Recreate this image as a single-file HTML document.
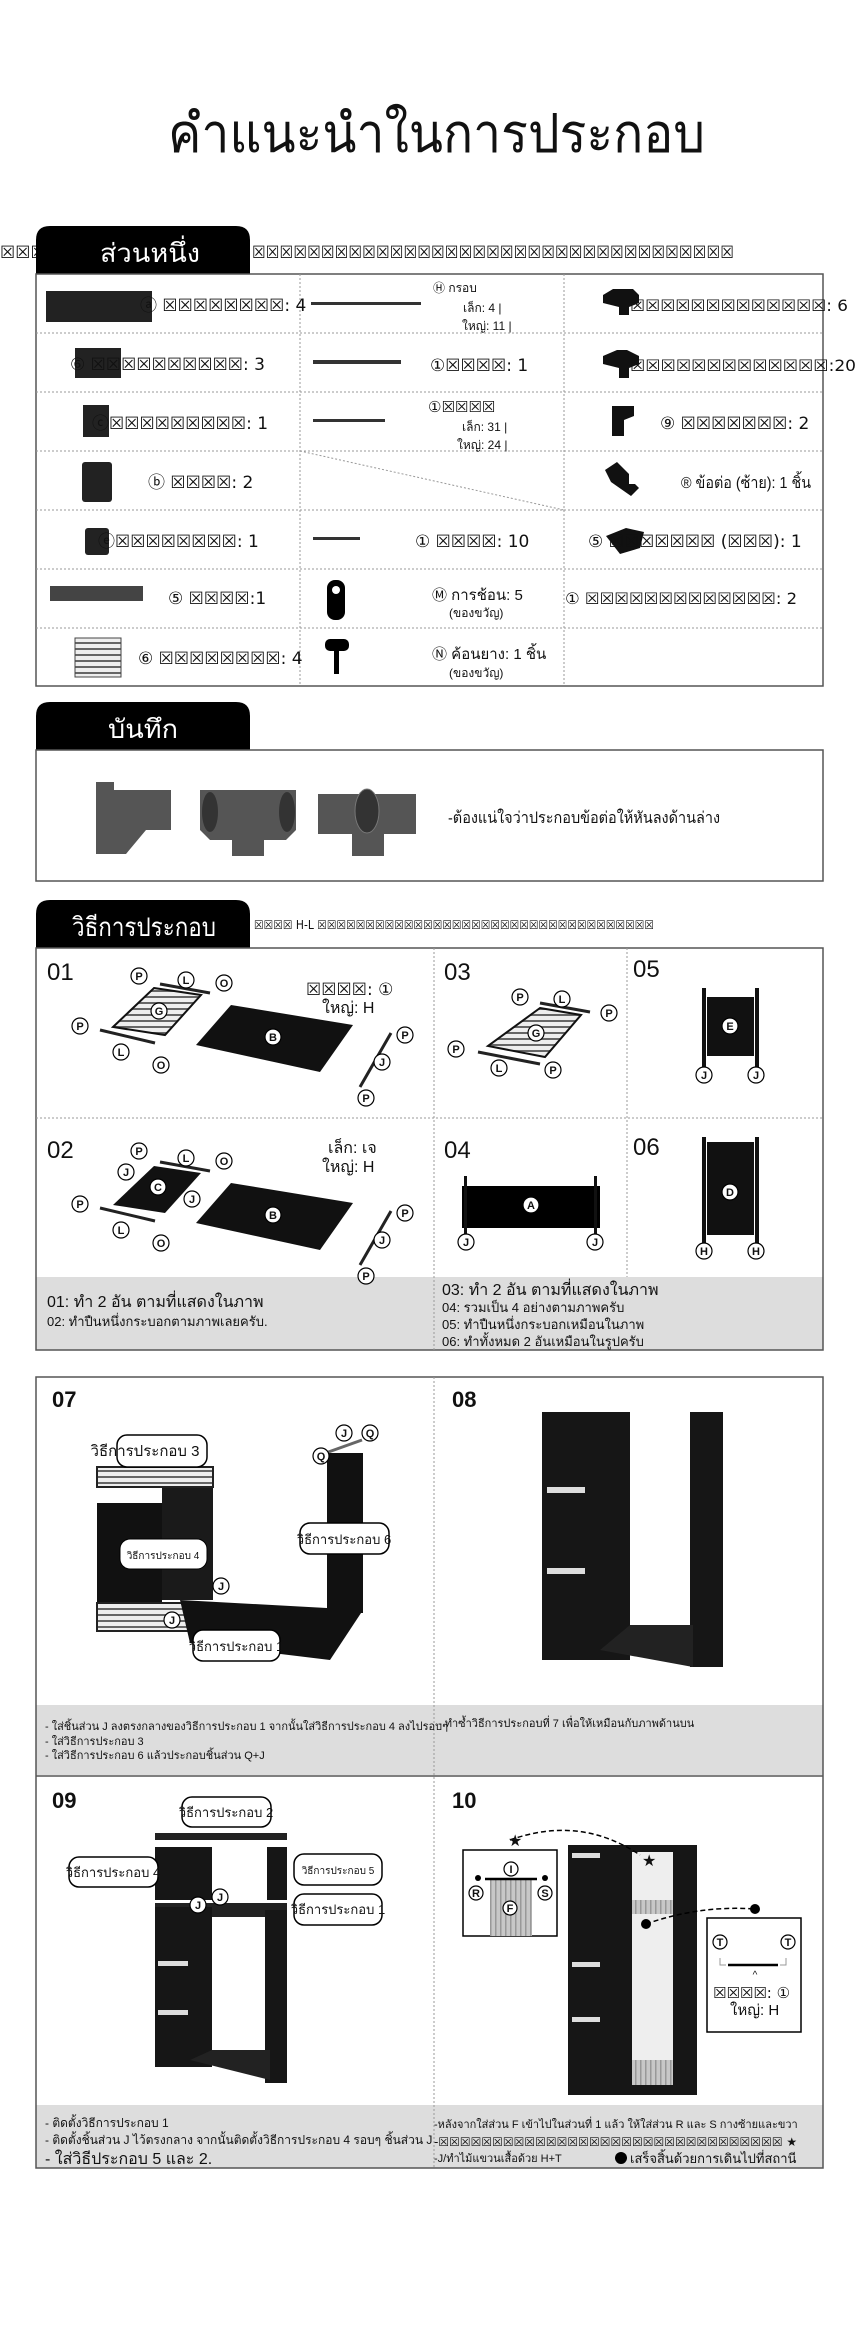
<!DOCTYPE html>
<html><head><meta charset="utf-8"><style>
html,body{margin:0;padding:0;background:#fff}
body{width:860px;height:2336px;position:relative;overflow:hidden}
svg{position:absolute;left:0;top:0}
text{font-family:"Liberation Sans","DejaVu Sans",sans-serif;fill:#111}
.t{font-size:17px}
.s{font-size:12px}
.bx{font-family:"DejaVu Sans",sans-serif}
</style></head><body>
<svg width="860" height="2336" viewBox="0 0 860 2336" xmlns="http://www.w3.org/2000/svg">
<defs>
<pattern id="str" width="6" height="6" patternUnits="userSpaceOnUse"><rect width="6" height="6" fill="#eee"/><rect width="6" height="2" fill="#666"/></pattern>
<pattern id="vst" width="5" height="6" patternUnits="userSpaceOnUse"><rect width="5" height="6" fill="#c8c8c8"/><rect width="1.5" height="6" fill="#999"/></pattern>
</defs>
<!-- title -->
<text x="168" y="152" font-size="54" textLength="537" lengthAdjust="spacingAndGlyphs">คำแนะนำในการประกอบ</text>

<!-- section 1 -->
<text x="0" y="258" class="bx" font-size="17">☒☒☒</text>
<text x="252" y="258" class="bx" font-size="17" textLength="482" lengthAdjust="spacingAndGlyphs">☒☒☒☒☒☒☒☒☒☒☒☒☒☒☒☒☒☒☒☒☒☒☒☒☒☒☒☒☒☒☒☒☒☒☒</text>
<path d="M36 274 V240 Q36 226 50 226 H236 Q250 226 250 240 V274 Z" fill="#000"/>
<text x="100" y="262" font-size="26" textLength="100" lengthAdjust="spacingAndGlyphs" style="fill:#fff">ส่วนหนึ่ง</text>
<rect x="36" y="274" width="787" height="412" fill="none" stroke="#555" stroke-width="1.5"/>
<g stroke="#999" stroke-dasharray="2,2" stroke-width="1">
<line x1="36" y1="333" x2="823" y2="333"/><line x1="36" y1="392" x2="823" y2="392"/>
<line x1="36" y1="451" x2="823" y2="451"/><line x1="36" y1="510" x2="823" y2="510"/>
<line x1="36" y1="569" x2="823" y2="569"/><line x1="36" y1="628" x2="823" y2="628"/>
<line x1="300" y1="274" x2="300" y2="686"/><line x1="564" y1="274" x2="564" y2="686"/>
<line x1="300" y1="451" x2="564" y2="510"/>
</g>
<!-- col1 -->
<rect x="46" y="291" width="106" height="31" fill="#222"/>
<text x="140" y="311" class="bx t">ⓐ ☒☒☒☒☒☒☒☒: 4</text>
<rect x="75" y="348" width="46" height="30" fill="#222"/>
<text x="70" y="370" class="bx t">⑥ ☒☒☒☒☒☒☒☒☒☒: 3</text>
<rect x="83" y="405" width="26" height="32" fill="#222"/>
<text x="92" y="429" class="bx t">ⓒ☒☒☒☒☒☒☒☒☒: 1</text>
<rect x="82" y="462" width="30" height="40" rx="3" fill="#222"/>
<text x="148" y="488" class="bx t">ⓑ ☒☒☒☒: 2</text>
<rect x="85" y="528" width="24" height="27" rx="3" fill="#222"/>
<text x="98" y="547" class="bx t">ⓔ☒☒☒☒☒☒☒☒: 1</text>
<rect x="50" y="586" width="93" height="15" fill="#444"/>
<text x="168" y="604" class="bx t">⑤ ☒☒☒☒:1</text>
<rect x="75" y="638" width="46" height="39" fill="url(#str)" stroke="#444"/>
<text x="138" y="664" class="bx t">⑥ ☒☒☒☒☒☒☒☒: 4</text>
<!-- col2 -->
<rect x="311" y="302" width="110" height="3" fill="#333"/>
<text x="433" y="292" class="s">Ⓗ กรอบ</text>
<text x="463" y="312" class="s">เล็ก: 4 |</text>
<text x="462" y="330" class="s">ใหญ่: 11 |</text>
<rect x="313" y="360" width="88" height="4" fill="#333"/>
<text x="430" y="371" class="bx t">①☒☒☒☒: 1</text>
<rect x="313" y="419" width="72" height="3" fill="#333"/>
<text x="428" y="412" class="bx" font-size="15">①☒☒☒☒</text>
<text x="462" y="431" class="s">เล็ก: 31 |</text>
<text x="457" y="449" class="s">ใหญ่: 24 |</text>
<rect x="313" y="537" width="47" height="3" fill="#333"/>
<text x="415" y="547" class="bx t">① ☒☒☒☒: 10</text>
<rect x="327" y="580" width="18" height="40" rx="8" fill="#000"/><circle cx="336" cy="590" r="4" fill="#fff"/>
<text x="432" y="600" font-size="15">Ⓜ การช้อน: 5</text>
<text x="449" y="617" class="s">(ของขวัญ)</text>
<rect x="325" y="639" width="24" height="12" rx="5" fill="#000"/><rect x="334" y="648" width="5" height="26" fill="#000"/>
<text x="432" y="659" font-size="15">Ⓝ ค้อนยาง: 1 ชิ้น</text>
<text x="449" y="677" class="s">(ของขวัญ)</text>
<!-- col3 -->
<path d="M603 295 l10 -6 h20 l6 6 v8 l-10 4 v8 h-10 v-8 l-16 -4z" fill="#111"/>
<text x="630" y="311" class="bx" font-size="16" textLength="218" lengthAdjust="spacingAndGlyphs">☒☒☒☒☒☒☒☒☒☒☒☒☒: 6</text>
<path d="M603 356 l14 -6 h10 l12 6 v8 l-10 4 v10 h-10 v-10 l-16 -4z" fill="#111"/>
<text x="630" y="371" class="bx" font-size="16" textLength="226" lengthAdjust="spacingAndGlyphs">☒☒☒☒☒☒☒☒☒☒☒☒☒:20</text>
<path d="M612 406 h22 v10 l-10 4 v16 h-12z" fill="#111"/>
<text x="660" y="429" class="bx t">⑨ ☒☒☒☒☒☒☒: 2</text>
<path d="M605 470 l12 -8 l12 12 v10 h6 l4 4 l-8 8 l-20 -14z" fill="#111"/>
<text x="681" y="488" font-size="16" textLength="130" lengthAdjust="spacingAndGlyphs">® ข้อต่อ (ซ้าย): 1 ชิ้น</text>
<path d="M606 536 l20 -8 l18 4 l-4 16 l-20 6z" fill="#111"/>
<text x="588" y="547" class="bx t">⑤ ☒☒☒☒☒☒☒ (☒☒☒): 1</text>
<text x="565" y="604" class="bx" font-size="16" textLength="232" lengthAdjust="spacingAndGlyphs">① ☒☒☒☒☒☒☒☒☒☒☒☒☒: 2</text>

<!-- section 2 -->
<path d="M36 750 V716 Q36 702 50 702 H236 Q250 702 250 716 V750 Z" fill="#000"/>
<text x="108" y="738" font-size="26" textLength="70" lengthAdjust="spacingAndGlyphs" style="fill:#fff">บันทึก</text>
<rect x="36" y="750" width="787" height="131" fill="none" stroke="#555" stroke-width="1.5"/>
<g fill="#555">
<rect x="96" y="782" width="18" height="72"/><path d="M114 790 h57 v40 h-25 l-20 24 h-12z"/>
<path d="M200 790 h96 v40 l-10 10 h-22 v16 h-32 v-16 h-22 l-10 -10z"/>
<ellipse cx="210" cy="812" rx="8" ry="20" fill="#333"/><ellipse cx="287" cy="812" rx="8" ry="20" fill="#333"/>
<path d="M318 794 h98 v40 h-32 v22 h-32 v-22 h-34z"/>
<ellipse cx="367" cy="811" rx="12" ry="22" fill="#333" stroke="#777"/>
</g>
<text x="448" y="823" font-size="16" textLength="272" lengthAdjust="spacingAndGlyphs">-ต้องแน่ใจว่าประกอบข้อต่อให้หันลงด้านล่าง</text>

<!-- section 3 -->
<path d="M36 948 V914 Q36 900 50 900 H236 Q250 900 250 914 V948 Z" fill="#000"/>
<text x="72" y="936" font-size="26" textLength="144" lengthAdjust="spacingAndGlyphs" style="fill:#fff">วิธีการประกอบ</text>
<text x="254" y="929" class="bx" font-size="12" textLength="400" lengthAdjust="spacingAndGlyphs">☒☒☒☒ H-L ☒☒☒☒☒☒☒☒☒☒☒☒☒☒☒☒☒☒☒☒☒☒☒☒☒☒☒☒☒☒☒☒☒☒☒</text>
<rect x="36" y="1277" width="787" height="73" fill="#ddd"/>
<rect x="36" y="948" width="787" height="402" fill="none" stroke="#555" stroke-width="1.5"/>
<g stroke="#999" stroke-dasharray="2,2"><line x1="36" y1="1118" x2="823" y2="1118"/><line x1="434" y1="948" x2="434" y2="1350"/><line x1="627" y1="948" x2="627" y2="1277"/></g>
<g font-size="24"><text x="47" y="980">01</text><text x="47" y="1158">02</text><text x="444" y="980">03</text><text x="444" y="1158">04</text><text x="633" y="977">05</text><text x="633" y="1155">06</text></g>
<g>
<polygon points="231,1005 353,1025 320,1072 196,1045" fill="#111"/>
<polygon points="154,988 201,995 165,1035 113,1027" fill="url(#str)" stroke="#111" stroke-width="2"/>
<line x1="160" y1="984" x2="210" y2="993" stroke="#222" stroke-width="3"/>
<line x1="100" y1="1030" x2="155" y2="1043" stroke="#222" stroke-width="3"/>
<line x1="391" y1="1033" x2="360" y2="1087" stroke="#222" stroke-width="3"/>
</g>
<g font-size="11" font-weight="bold" text-anchor="middle">
<g fill="#fff" stroke="#000" stroke-width="1.2">
<circle cx="139" cy="976" r="8"/><circle cx="186" cy="980" r="8"/><circle cx="224" cy="983" r="8"/><circle cx="80" cy="1026" r="8"/><circle cx="121" cy="1052" r="8"/><circle cx="161" cy="1065" r="8"/><circle cx="405" cy="1035" r="8"/><circle cx="382" cy="1062" r="8"/><circle cx="366" cy="1098" r="8"/>
<circle cx="273" cy="1037" r="8"/><circle cx="159" cy="1011" r="8"/>
</g>
<text x="139" y="980">P</text><text x="186" y="984">L</text><text x="224" y="987">O</text><text x="80" y="1030">P</text><text x="121" y="1056">L</text><text x="161" y="1069">O</text><text x="405" y="1039">P</text><text x="382" y="1066">J</text><text x="366" y="1102">P</text><text x="273" y="1041">B</text><text x="159" y="1015">G</text>
</g>
<text x="306" y="995" class="bx" font-size="17">☒☒☒☒: ①</text>
<text x="322" y="1013" font-size="16">ใหญ่: H</text>
<g transform="translate(0,178)">
<polygon points="231,1005 353,1025 320,1072 196,1045" fill="#111"/>
<polygon points="154,988 201,995 165,1035 113,1027" fill="#111"/>
<line x1="160" y1="984" x2="210" y2="993" stroke="#222" stroke-width="3"/>
<line x1="100" y1="1030" x2="155" y2="1043" stroke="#222" stroke-width="3"/>
<line x1="391" y1="1033" x2="360" y2="1087" stroke="#222" stroke-width="3"/>
<g font-size="11" font-weight="bold" text-anchor="middle">
<g fill="#fff" stroke="#000" stroke-width="1.2">
<circle cx="139" cy="973" r="8"/><circle cx="186" cy="980" r="8"/><circle cx="224" cy="983" r="8"/><circle cx="80" cy="1026" r="8"/><circle cx="121" cy="1052" r="8"/><circle cx="161" cy="1065" r="8"/><circle cx="405" cy="1035" r="8"/><circle cx="382" cy="1062" r="8"/><circle cx="366" cy="1098" r="8"/>
<circle cx="273" cy="1037" r="8"/><circle cx="158" cy="1009" r="8"/><circle cx="126" cy="994" r="8"/><circle cx="192" cy="1021" r="8"/>
</g>
<text x="139" y="977">P</text><text x="186" y="984">L</text><text x="224" y="987">O</text><text x="80" y="1030">P</text><text x="121" y="1056">L</text><text x="161" y="1069">O</text><text x="405" y="1039">P</text><text x="382" y="1066">J</text><text x="366" y="1102">P</text><text x="273" y="1041">B</text><text x="158" y="1013">C</text><text x="126" y="998">J</text><text x="192" y="1025">J</text>
</g>
</g>
<text x="328" y="1153" font-size="16">เล็ก: เจ</text>
<text x="322" y="1172" font-size="16">ใหญ่: H</text>
<polygon points="540,1008 581,1015 545,1057 488,1046" fill="url(#str)" stroke="#111" stroke-width="2"/>
<line x1="540" y1="1003" x2="590" y2="1012" stroke="#222" stroke-width="3"/>
<line x1="478" y1="1052" x2="540" y2="1064" stroke="#222" stroke-width="3"/>
<g font-size="11" font-weight="bold" text-anchor="middle">
<g fill="#fff" stroke="#000" stroke-width="1.2"><circle cx="520" cy="997" r="8"/><circle cx="562" cy="999" r="8"/><circle cx="609" cy="1013" r="8"/><circle cx="456" cy="1049" r="8"/><circle cx="499" cy="1068" r="8"/><circle cx="553" cy="1070" r="8"/><circle cx="536" cy="1033" r="8"/></g>
<text x="520" y="1001">P</text><text x="562" y="1003">L</text><text x="609" y="1017">P</text><text x="456" y="1053">P</text><text x="499" y="1072">L</text><text x="553" y="1074">P</text><text x="536" y="1037">G</text>
</g>
<rect x="707" y="997" width="47" height="59" fill="#111"/>
<rect x="702" y="988" width="4" height="80" fill="#111"/><rect x="755" y="988" width="4" height="80" fill="#111"/>
<rect x="462" y="1186" width="138" height="42" fill="#000"/>
<rect x="464" y="1176" width="3" height="58" fill="#111"/><rect x="594" y="1176" width="3" height="58" fill="#111"/>
<rect x="707" y="1142" width="47" height="93" fill="#111"/>
<rect x="702" y="1137" width="4" height="108" fill="#111"/><rect x="755" y="1137" width="4" height="108" fill="#111"/>
<g font-size="11" font-weight="bold" text-anchor="middle">
<g fill="#fff" stroke="#000" stroke-width="1.2"><circle cx="730" cy="1026" r="8"/><circle cx="704" cy="1075" r="8"/><circle cx="756" cy="1075" r="8"/><circle cx="531" cy="1205" r="8"/><circle cx="466" cy="1242" r="8"/><circle cx="595" cy="1242" r="8"/><circle cx="730" cy="1192" r="8"/><circle cx="704" cy="1251" r="8"/><circle cx="756" cy="1251" r="8"/></g>
<text x="730" y="1030">E</text><text x="704" y="1079">J</text><text x="756" y="1079">J</text><text x="531" y="1209">A</text><text x="466" y="1246">J</text><text x="595" y="1246">J</text><text x="730" y="1196">D</text><text x="704" y="1255">H</text><text x="756" y="1255">H</text>
</g>
<text x="47" y="1307" font-size="16">01: ทำ 2 อัน ตามที่แสดงในภาพ</text>
<text x="47" y="1326" font-size="13">02: ทำปืนหนึ่งกระบอกตามภาพเลยครับ.</text>
<text x="442" y="1295" font-size="16">03: ทำ 2 อัน ตามที่แสดงในภาพ</text>
<text x="442" y="1312" font-size="13">04: รวมเป็น 4 อย่างตามภาพครับ</text>
<text x="442" y="1329" font-size="13">05: ทำปืนหนึ่งกระบอกเหมือนในภาพ</text>
<text x="442" y="1346" font-size="13">06: ทำทั้งหมด 2 อันเหมือนในรูปครับ</text>

<!-- section 4 -->
<rect x="36" y="1705" width="787" height="70" fill="#ddd"/>
<rect x="36" y="2105" width="787" height="63" fill="#ddd"/>
<rect x="36" y="1377" width="787" height="791" fill="none" stroke="#555" stroke-width="1.5"/>
<line x1="36" y1="1776" x2="823" y2="1776" stroke="#555" stroke-width="1.5"/>
<line x1="434" y1="1377" x2="434" y2="2168" stroke="#999" stroke-dasharray="2,2"/>
<g font-size="22" font-weight="bold"><text x="52" y="1407">07</text><text x="452" y="1407">08</text><text x="52" y="1808">09</text><text x="452" y="1808">10</text></g>
<rect x="97" y="1467" width="116" height="20" fill="url(#str)" stroke="#222" stroke-width="2"/>
<rect x="97" y="1503" width="65" height="100" fill="#111"/>
<rect x="162" y="1488" width="51" height="112" fill="#1a1a1a"/>
<rect x="97" y="1603" width="116" height="28" fill="url(#str)" stroke="#222" stroke-width="2"/>
<polygon points="180,1600 363,1610 330,1660 190,1643" fill="#111"/>
<rect x="327" y="1453" width="36" height="160" fill="#111"/>
<line x1="320" y1="1455" x2="362" y2="1440" stroke="#666" stroke-width="3"/>
<g font-size="13" text-anchor="middle">
<rect x="117" y="1435" width="90" height="32" rx="10" fill="#fff" stroke="#000" stroke-width="1.5"/><text x="145" y="1456" font-size="15">วิธีการประกอบ 3</text>
<rect x="120" y="1539" width="87" height="30" rx="10" fill="#fff" stroke="#000"/><text x="163" y="1559" font-size="10">วิธีการประกอบ 4</text>
<rect x="300" y="1523" width="89" height="31" rx="10" fill="#fff" stroke="#000" stroke-width="1.5"/><text x="344" y="1544">วิธีการประกอบ 6</text>
<rect x="193" y="1630" width="87" height="31" rx="10" fill="#fff" stroke="#000" stroke-width="1.5"/><text x="236" y="1651">วิธีการประกอบ 1</text>
</g>
<g font-size="11" font-weight="bold" text-anchor="middle">
<g fill="#fff" stroke="#000" stroke-width="1.2"><circle cx="221" cy="1586" r="8"/><circle cx="172" cy="1620" r="8"/><circle cx="344" cy="1433" r="8"/><circle cx="370" cy="1433" r="8"/><circle cx="321" cy="1456" r="8"/></g>
<text x="221" y="1590">J</text><text x="172" y="1624">J</text><text x="344" y="1437">J</text><text x="370" y="1437">Q</text><text x="321" y="1460">Q</text>
</g>
<text x="45" y="1730" font-size="11">- ใส่ชิ้นส่วน J ลงตรงกลางของวิธีการประกอบ 1 จากนั้นใส่วิธีการประกอบ 4 ลงไปรอบๆ</text>
<text x="45" y="1745" font-size="11">- ใส่วิธีการประกอบ 3</text>
<text x="45" y="1759" font-size="11">- ใส่วิธีการประกอบ 6 แล้วประกอบชิ้นส่วน Q+J</text>
<rect x="542" y="1412" width="88" height="248" fill="#161616"/>
<rect x="547" y="1487" width="38" height="6" fill="#ddd"/><rect x="547" y="1568" width="38" height="6" fill="#ddd"/>
<rect x="690" y="1412" width="33" height="255" fill="#161616"/>
<polygon points="600,1650 630,1625 693,1625 693,1667" fill="#222"/>
<text x="438" y="1727" font-size="11">- ทำซ้ำวิธีการประกอบที่ 7 เพื่อให้เหมือนกับภาพด้านบน</text>
<rect x="155" y="1833" width="132" height="7" fill="#222"/>
<rect x="155" y="1847" width="57" height="53" fill="#161616"/>
<rect x="267" y="1847" width="20" height="53" fill="#161616"/>
<rect x="155" y="1903" width="132" height="14" fill="#222"/>
<rect x="155" y="1907" width="57" height="160" fill="#161616"/>
<rect x="158" y="1961" width="30" height="5" fill="#ddd"/><rect x="158" y="2010" width="30" height="5" fill="#ddd"/>
<rect x="265" y="1910" width="22" height="173" fill="#161616"/>
<polygon points="190,2060 212,2050 270,2050 270,2080" fill="#222"/>
<g font-size="13" text-anchor="middle">
<rect x="182" y="1797" width="89" height="30" rx="10" fill="#fff" stroke="#000" stroke-width="1.5"/><text x="226" y="1817">วิธีการประกอบ 2</text>
<rect x="69" y="1857" width="89" height="30" rx="10" fill="#fff" stroke="#000" stroke-width="1.5"/><text x="113" y="1877">วิธีการประกอบ 4</text>
<rect x="294" y="1854" width="88" height="31" rx="10" fill="#fff" stroke="#000" stroke-width="1.5"/><text x="338" y="1874" font-size="10">วิธีการประกอบ 5</text>
<rect x="294" y="1894" width="88" height="31" rx="10" fill="#fff" stroke="#000" stroke-width="1.5"/><text x="338" y="1914">วิธีการประกอบ 1</text>
</g>
<g font-size="11" font-weight="bold" text-anchor="middle"><g fill="#fff" stroke="#000" stroke-width="1.2"><circle cx="198" cy="1905" r="8"/><circle cx="220" cy="1897" r="8"/></g><text x="198" y="1909">J</text><text x="220" y="1901">J</text></g>
<text x="45" y="2127" font-size="12">- ติดตั้งวิธีการประกอบ 1</text>
<text x="45" y="2144" font-size="12">- ติดตั้งชิ้นส่วน J ไว้ตรงกลาง จากนั้นติดตั้งวิธีการประกอบ 4 รอบๆ ชิ้นส่วน J</text>
<text x="45" y="2164" font-size="16">- ใส่วิธีประกอบ 5 และ 2.</text>
<rect x="568" y="1845" width="129" height="250" fill="#161616"/>
<rect x="572" y="1853" width="28" height="5" fill="#ddd"/><rect x="572" y="1962" width="28" height="5" fill="#ddd"/><rect x="572" y="2017" width="28" height="5" fill="#ddd"/>
<rect x="632" y="1852" width="41" height="233" fill="#eee"/>
<rect x="632" y="1900" width="41" height="14" fill="url(#vst)"/><rect x="632" y="2060" width="41" height="25" fill="url(#vst)"/>
<path d="M510 1840 Q580 1815 640 1855" fill="none" stroke="#000" stroke-width="1.5" stroke-dasharray="5,3"/>
<text x="508" y="1846" font-size="16">★</text><text x="642" y="1866" font-size="16">★</text>
<path d="M646 1924 Q700 1905 755 1909" fill="none" stroke="#000" stroke-width="1.5" stroke-dasharray="5,3"/>
<circle cx="646" cy="1924" r="5"/><circle cx="755" cy="1909" r="5"/>
<rect x="463" y="1850" width="94" height="86" fill="#fff" stroke="#000" stroke-width="1.5"/>
<rect x="490" y="1880" width="42" height="56" fill="url(#vst)"/>
<line x1="485" y1="1879" x2="537" y2="1879" stroke="#000" stroke-width="2.5"/>
<circle cx="478" cy="1878" r="3"/><circle cx="545" cy="1878" r="3"/>
<rect x="707" y="1918" width="94" height="114" fill="#fff" stroke="#000" stroke-width="1.5"/>
<line x1="728" y1="1965" x2="778" y2="1965" stroke="#000" stroke-width="2.5"/>
<path d="M720 1958 v7 h6 M786 1958 v7 h-6" fill="none" stroke="#999"/>
<text x="755" y="1978" font-size="10" text-anchor="middle">^</text>
<text x="713" y="1998" class="bx" font-size="15">☒☒☒☒: ①</text>
<text x="730" y="2015" font-size="15">ใหญ่: H</text>
<g font-size="11" font-weight="bold" text-anchor="middle"><g fill="#fff" stroke="#000" stroke-width="1.2"><circle cx="511" cy="1869" r="7"/><circle cx="476" cy="1893" r="7"/><circle cx="545" cy="1893" r="7"/><circle cx="510" cy="1908" r="7"/><circle cx="720" cy="1942" r="7"/><circle cx="788" cy="1942" r="7"/></g>
<text x="511" y="1873">I</text><text x="476" y="1897">R</text><text x="545" y="1897">S</text><text x="510" y="1912">F</text><text x="720" y="1946">T</text><text x="788" y="1946">T</text></g>
<text x="434" y="2128" font-size="11">-หลังจากใส่ส่วน F เข้าไปในส่วนที่ 1 แล้ว ให้ใส่ส่วน R และ S กางซ้ายและขวา</text>
<text x="434" y="2146" class="bx" font-size="12">-☒☒☒☒☒☒☒☒☒☒☒☒☒☒☒☒☒☒☒☒☒☒☒☒☒☒☒☒☒☒☒☒ ★</text>
<text x="434" y="2162" font-size="11">-J/ทำไม้แขวนเสื้อด้วย H+T</text>
<circle cx="621" cy="2158" r="6"/>
<text x="630" y="2163" font-size="13">เสร็จสิ้นด้วยการเดินไปที่สถานี</text>
</svg>
</body></html>
